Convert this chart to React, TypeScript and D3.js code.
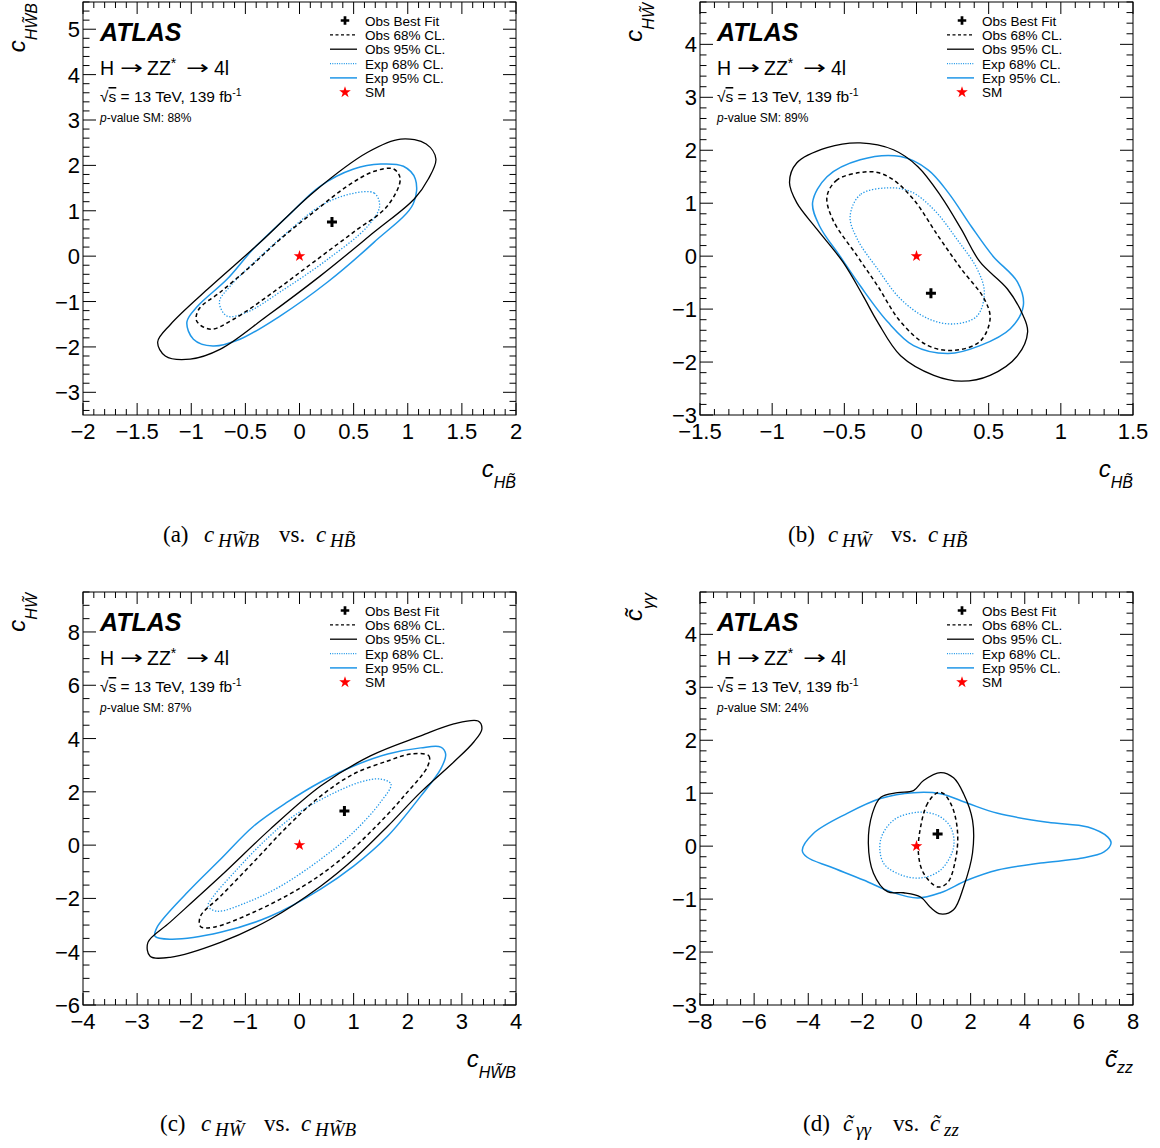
import React from "react";
import * as d3 from "d3";

type Pt = [number, number];

// ---------------- Panel (a): c_HWtB vs c_HBt ----------------
const aXTicks = [-2, -1.5, -1, -0.5, 0, 0.5, 1, 1.5, 2];
const aYTicks = [-3, -2, -1, 0, 1, 2, 3, 4, 5];
const aObs95: Pt[] = [
  [0.935, 2.58], [1.17, 2.47], [1.26, 2.14], [1.19, 1.7], [1.06, 1.26], [0.69, 0.53],
  [0.19, -0.44], [-0.3, -1.32], [-0.73, -2.05], [-1.01, -2.27], [-1.24, -2.2], [-1.31, -1.89],
  [-1.19, -1.5], [-0.85, -0.73], [-0.36, 0.31], [0.13, 1.41], [0.63, 2.29],
];
const aExp95: Pt[] = [
  [0.75, 2.03], [0.96, 1.98], [1.07, 1.7], [1.05, 1.15], [0.69, 0.31], [0.26, -0.57],
  [-0.18, -1.32], [-0.55, -1.83], [-0.8, -1.98], [-0.98, -1.83], [-1.04, -1.45], [-0.94, -1.1],
  [-0.67, -0.51], [-0.43, 0.15], [-0.11, 0.88], [0.19, 1.54], [0.5, 1.92],
];
const aObs68: Pt[] = [
  [0.69, 1.87], [0.87, 1.92], [0.93, 1.7], [0.81, 1.1], [0.5, 0.53], [0.13, -0.13],
  [-0.24, -0.79], [-0.61, -1.39], [-0.82, -1.61], [-0.95, -1.43], [-0.93, -1.17], [-0.73, -0.79],
  [-0.45, -0.22], [-0.18, 0.37], [0.13, 0.97], [0.44, 1.54],
];
const aExp68: Pt[] = [
  [0.47, 1.37], [0.69, 1.39], [0.74, 1.1], [0.63, 0.66], [0.26, -0.07], [-0.18, -0.79],
  [-0.48, -1.23], [-0.67, -1.32], [-0.74, -1.01], [-0.64, -0.66], [-0.39, -0.07], [-0.11, 0.53],
  [0.19, 1.1],
];
const aBest: Pt = [0.3, 0.75];

// ---------------- Panel (b): c_HWt vs c_HBt ----------------
const bXTicks = [-1.5, -1, -0.5, 0, 0.5, 1, 1.5];
const bYTicks = [-3, -2, -1, 0, 1, 2, 3, 4];
const bObs95: Pt[] = [
  [-0.39, 2.14], [-0.62, 2.05], [-0.83, 1.76], [-0.88, 1.39], [-0.83, 1.01], [-0.69, 0.51],
  [-0.51, -0.11], [-0.37, -0.75], [-0.27, -1.24], [-0.11, -1.88], [0.12, -2.25], [0.31, -2.36],
  [0.51, -2.25], [0.7, -1.88], [0.77, -1.43], [0.74, -1.13], [0.63, -0.62], [0.44, -0.11],
  [0.31, 0.51], [0.17, 1.13], [0.01, 1.69], [-0.16, 2.01],
];
const bExp95: Pt[] = [
  [-0.11, 1.88], [-0.39, 1.82], [-0.62, 1.5], [-0.72, 1.01], [-0.67, 0.56], [-0.53, 0],
  [-0.39, -0.56], [-0.2, -1.24], [-0.02, -1.69], [0.22, -1.84], [0.44, -1.69], [0.65, -1.37],
  [0.74, -0.94], [0.7, -0.49], [0.53, 0], [0.38, 0.56], [0.22, 1.2], [0.08, 1.63],
];
const bObs68: Pt[] = [
  [-0.39, 1.58], [-0.55, 1.44], [-0.62, 1.13], [-0.58, 0.69], [-0.41, 0], [-0.27, -0.56],
  [-0.11, -1.24], [0.08, -1.69], [0.26, -1.78], [0.44, -1.61], [0.51, -1.18], [0.47, -0.81],
  [0.31, -0.24], [0.15, 0.38], [-0.02, 1.07], [-0.16, 1.44], [-0.27, 1.58],
];
const bExp68: Pt[] = [
  [-0.2, 1.29], [-0.39, 1.16], [-0.46, 0.75], [-0.41, 0.32], [-0.27, -0.24], [-0.11, -0.81],
  [0.08, -1.18], [0.26, -1.28], [0.42, -1.13], [0.47, -0.68], [0.42, -0.24], [0.28, 0.32],
  [0.12, 0.88], [-0.04, 1.22],
];
const bBest: Pt = [0.1, -0.7];

// ---------------- Panel (c): c_HWt vs c_HWtB ----------------
const cXTicks = [-4, -3, -2, -1, 0, 1, 2, 3, 4];
const cYTicks = [-6, -4, -2, 0, 2, 4, 6, 8];
const cObs95: Pt[] = [
  [2.85, 4.55], [3.3, 4.66], [3.37, 4.36], [3.22, 3.87], [2.85, 3.12], [2.24, 1.99],
  [1.63, 0.71], [1.0, -0.53], [0.39, -1.54], [-0.54, -2.78], [-1.46, -3.65], [-2.39, -4.21],
  [-2.76, -4.17], [-2.8, -3.65], [-2.39, -2.89], [-1.46, -1.17], [-0.54, 0.6], [0.39, 2.22],
  [1.31, 3.35], [2.24, 4.1],
];
const cExp95: Pt[] = [
  [2.24, 3.65], [2.61, 3.68], [2.7, 3.42], [2.61, 2.86], [2.24, 1.84], [1.63, 0.34],
  [1.0, -0.79], [0.39, -1.65], [-0.54, -2.67], [-1.46, -3.27], [-2.39, -3.53], [-2.67, -3.42],
  [-2.63, -3.08], [-2.07, -1.77], [-1.46, -0.53], [-0.85, 0.71], [-0.22, 1.62], [0.39, 2.37],
  [1.0, 2.97], [1.63, 3.42],
];
const cObs68: Pt[] = [
  [2.06, 3.42], [2.39, 3.35], [2.37, 2.97], [1.93, 1.84], [1.31, 0.49], [0.7, -0.64],
  [0.07, -1.54], [-0.85, -2.52], [-1.59, -3.08], [-1.83, -3.05], [-1.83, -2.67], [-1.46, -1.92],
  [-0.85, -0.64], [-0.22, 0.71], [0.39, 1.84], [1.0, 2.67], [1.63, 3.16],
];
const cExp68: Pt[] = [
  [1.5, 2.48], [1.69, 2.29], [1.5, 1.62], [1.0, 0.49], [0.39, -0.53], [-0.35, -1.54],
  [-0.96, -2.14], [-1.52, -2.48], [-1.69, -2.29], [-1.59, -1.92], [-1.15, -0.9], [-0.67, 0.11],
  [-0.11, 1.09], [0.52, 1.84], [1.13, 2.37],
];
const cBest: Pt = [0.83, 1.28];

// ---------------- Panel (d): c~_gg vs c~_zz ----------------
const dXTicks = [-8, -6, -4, -2, 0, 2, 4, 6, 8];
const dYTicks = [-3, -2, -1, 0, 1, 2, 3, 4];
const dObs95: Pt[] = [
  [0.89, 1.39], [0.26, 1.24], [-0.11, 1.05], [-0.7, 1.01], [-1.33, 0.92], [-1.63, 0.62],
  [-1.78, 0.06], [-1.59, -0.51], [-1.07, -0.86], [-0.48, -0.88], [0.15, -0.96], [0.52, -1.16],
  [0.89, -1.28], [1.37, -1.2], [1.74, -0.77], [2.07, -0.13], [2.07, 0.49], [1.74, 0.99],
  [1.37, 1.29],
];
const dExp95: Pt[] = [
  [-4.22, -0.08], [-3.81, 0.24], [-2.56, 0.62], [-1.33, 0.9], [-0.11, 1.01], [0.89, 0.99],
  [1.89, 0.81], [3.0, 0.62], [4.85, 0.45], [6.33, 0.36], [7.07, 0.17], [7.19, 0.06],
  [6.93, -0.11], [6.07, -0.23], [4.59, -0.32], [3.0, -0.45], [1.89, -0.64], [0.89, -0.88],
  [0.04, -0.98], [-0.96, -0.86], [-1.96, -0.64], [-3.19, -0.39], [-4.04, -0.21],
];
const dObs68: Pt[] = [
  [0.78, 1.01], [0.41, 0.81], [0.15, 0.36], [0.07, -0.13], [0.26, -0.51], [0.78, -0.77],
  [1.15, -0.69], [1.44, -0.26], [1.52, 0.24], [1.33, 0.73], [1.0, 0.99],
];
const dExp68: Pt[] = [
  [0.04, 0.64], [-0.85, 0.49], [-1.33, 0.11], [-1.22, -0.32], [-0.59, -0.54], [0.15, -0.6],
  [0.89, -0.45], [1.37, -0.02], [1.26, 0.36], [0.78, 0.58],
];
const dBest: Pt = [0.78, 0.23];

const SM: Pt = [0, 0];
const legendLabels = ["Obs Best Fit", "Obs 68% CL.", "Obs 95% CL.", "Exp 68% CL.", "Exp 95% CL.", "SM"];
const pValues = ["88%", "89%", "87%", "24%"];

const BLUE = "#1f97e8";
const SANS = "'Liberation Sans', Arial, Helvetica, sans-serif";
const SERIF = "'Liberation Serif', 'DejaVu Serif', serif";
const PW = 433;
const PH = 413;

type AxisLabel = { main: string; sub: string; dy: number };

interface PanelCfg {
  id: string;
  left: number;
  top: number;
  xDomain: [number, number];
  yDomain: [number, number];
  xTicks: number[];
  yTicks: number[];
  xMinor: number;
  yMinor: number;
  obs95: Pt[];
  exp95: Pt[];
  obs68: Pt[];
  exp68: Pt[];
  best: Pt;
  pval: string;
  xLabel: AxisLabel;
  yLabel: AxisLabel;
}

const panels: PanelCfg[] = [
  {
    id: "a", left: 83, top: 2, xDomain: [-2, 2], yDomain: [-3.5, 5.6],
    xTicks: aXTicks, yTicks: aYTicks, xMinor: 0.1, yMinor: 0.2,
    obs95: aObs95, exp95: aExp95, obs68: aObs68, exp68: aExp68, best: aBest, pval: pValues[0],
    xLabel: { main: "c", sub: "HB\u0303", dy: 11 }, yLabel: { main: "c", sub: "HW\u0303B", dy: 12 },
  },
  {
    id: "b", left: 700, top: 2, xDomain: [-1.5, 1.5], yDomain: [-3, 4.8],
    xTicks: bXTicks, yTicks: bYTicks, xMinor: 0.1, yMinor: 0.2,
    obs95: bObs95, exp95: bExp95, obs68: bObs68, exp68: bExp68, best: bBest, pval: pValues[1],
    xLabel: { main: "c", sub: "HB\u0303", dy: 11 }, yLabel: { main: "c", sub: "HW\u0303", dy: 12 },
  },
  {
    id: "c", left: 83, top: 592, xDomain: [-4, 4], yDomain: [-6, 9.5],
    xTicks: cXTicks, yTicks: cYTicks, xMinor: 0.2, yMinor: 0.5,
    obs95: cObs95, exp95: cExp95, obs68: cObs68, exp68: cExp68, best: cBest, pval: pValues[2],
    xLabel: { main: "c", sub: "HW\u0303B", dy: 11 }, yLabel: { main: "c", sub: "HW\u0303", dy: 12 },
  },
  {
    id: "d", left: 700, top: 592, xDomain: [-8, 8], yDomain: [-3, 4.8],
    xTicks: dXTicks, yTicks: dYTicks, xMinor: 0.5, yMinor: 0.2,
    obs95: dObs95, exp95: dExp95, obs68: dObs68, exp68: dExp68, best: dBest, pval: pValues[3],
    xLabel: { main: "c\u0303", sub: "zz", dy: 6 }, yLabel: { main: "c\u0303", sub: "\u03b3\u03b3", dy: 12 },
  },
];

type CapPiece = { t: string; x: number; it?: boolean; sub?: boolean };
const captions: { y: number; pieces: CapPiece[] }[] = [
  {
    y: 542,
    pieces: [
      { t: "(a)", x: 163 }, { t: "c", x: 204, it: true }, { t: "HW\u0303B", x: 218, it: true, sub: true },
      { t: "vs.", x: 279 }, { t: "c", x: 316, it: true }, { t: "HB\u0303", x: 330, it: true, sub: true },
    ],
  },
  {
    y: 542,
    pieces: [
      { t: "(b)", x: 788 }, { t: "c", x: 828, it: true }, { t: "HW\u0303", x: 842, it: true, sub: true },
      { t: "vs.", x: 891 }, { t: "c", x: 928, it: true }, { t: "HB\u0303", x: 942, it: true, sub: true },
    ],
  },
  {
    y: 1131,
    pieces: [
      { t: "(c)", x: 160 }, { t: "c", x: 201, it: true }, { t: "HW\u0303", x: 215, it: true, sub: true },
      { t: "vs.", x: 264 }, { t: "c", x: 301, it: true }, { t: "HW\u0303B", x: 315, it: true, sub: true },
    ],
  },
  {
    y: 1131,
    pieces: [
      { t: "(d)", x: 803 }, { t: "c\u0303", x: 843, it: true }, { t: "\u03b3\u03b3", x: 856, it: true, sub: true },
      { t: "vs.", x: 893 }, { t: "c\u0303", x: 930, it: true }, { t: "zz", x: 944, it: true, sub: true },
    ],
  },
];

const fmt = (v: number) => (v < 0 ? "\u2212" : "") + String(Math.abs(v));

function minorTicks(domain: [number, number], step: number, majors: number[]) {
  const i0 = Math.ceil(domain[0] / step - 1e-9);
  const i1 = Math.floor(domain[1] / step + 1e-9);
  return d3
    .range(i0, i1 + 1)
    .map((i) => i * step)
    .filter((v) => !majors.some((m) => Math.abs(m - v) < 1e-6));
}

const plusPath = "M-5,0L5,0M0,-5L0,5";

function Panel({ p }: { p: PanelCfg }) {
  const x = d3.scaleLinear().domain(p.xDomain).range([p.left, p.left + PW]);
  const y = d3.scaleLinear().domain(p.yDomain).range([p.top + PH, p.top]);
  const line = d3
    .line<Pt>()
    .x((d) => x(d[0]))
    .y((d) => y(d[1]))
    .curve(d3.curveCatmullRomClosed.alpha(0.5));
  const bottom = p.top + PH;
  const right = p.left + PW;
  const xm = minorTicks(p.xDomain, p.xMinor, p.xTicks);
  const ym = minorTicks(p.yDomain, p.yMinor, p.yTicks);
  const star = d3.symbol(d3.symbolStar, 42)() || "";
  const tx = p.left + 17;
  const lx = p.left + 262;
  const legendY = (i: number) => p.top + 18.5 + i * 14.35;
  const hy = p.top + 73;
  return (
    <g>
      <defs>
        <clipPath id={"clip-" + p.id}>
          <rect x={p.left} y={p.top} width={PW} height={PH} />
        </clipPath>
      </defs>
      <g clipPath={`url(#clip-${p.id})`} fill="none">
        <path d={line(p.exp95) || ""} stroke={BLUE} strokeWidth={1.5} />
        <path d={line(p.exp68) || ""} stroke={BLUE} strokeWidth={1.3} strokeDasharray="1.3,1.7" />
        <path d={line(p.obs95) || ""} stroke="#000" strokeWidth={1.3} />
        <path d={line(p.obs68) || ""} stroke="#000" strokeWidth={1.5} strokeDasharray="4,3" />
        <path d={plusPath} transform={`translate(${x(p.best[0])},${y(p.best[1])})`} stroke="#000" strokeWidth={3} />
        <path d={star} transform={`translate(${x(SM[0])},${y(SM[1])})`} fill="red" />
      </g>
      <rect x={p.left} y={p.top} width={PW} height={PH} fill="none" stroke="#000" strokeWidth={1} />
      <g stroke="#000" strokeWidth={1}>
        {p.xTicks.map((v) => (
          <g key={"xt" + v}>
            <line x1={x(v)} x2={x(v)} y1={bottom} y2={bottom - 12} />
            <line x1={x(v)} x2={x(v)} y1={p.top} y2={p.top + 12} />
          </g>
        ))}
        {xm.map((v) => (
          <g key={"xm" + v}>
            <line x1={x(v)} x2={x(v)} y1={bottom} y2={bottom - 6} />
            <line x1={x(v)} x2={x(v)} y1={p.top} y2={p.top + 6} />
          </g>
        ))}
        {p.yTicks.map((v) => (
          <g key={"yt" + v}>
            <line x1={p.left} x2={p.left + 13} y1={y(v)} y2={y(v)} />
            <line x1={right} x2={right - 13} y1={y(v)} y2={y(v)} />
          </g>
        ))}
        {ym.map((v) => (
          <g key={"ym" + v}>
            <line x1={p.left} x2={p.left + 6.5} y1={y(v)} y2={y(v)} />
            <line x1={right} x2={right - 6.5} y1={y(v)} y2={y(v)} />
          </g>
        ))}
      </g>
      <g fontFamily={SANS} fontSize={22} fill="#000">
        {p.xTicks.map((v) => (
          <text key={"xl" + v} x={x(v)} y={bottom + 24} textAnchor="middle">
            {fmt(v)}
          </text>
        ))}
        {p.yTicks.map((v) => (
          <text key={"yl" + v} x={p.left - 3} y={y(v) + 8} textAnchor="end">
            {fmt(v)}
          </text>
        ))}
      </g>
      <text x={right} y={bottom + 62} textAnchor="end" fontFamily={SANS} fontStyle="italic" fontSize={24}>
        {p.xLabel.main}
        <tspan fontSize={16} dy={p.xLabel.dy}>{p.xLabel.sub}</tspan>
      </text>
      <text
        transform={`translate(${p.left - 58},${p.top + 1}) rotate(-90)`}
        textAnchor="end"
        fontFamily={SANS}
        fontStyle="italic"
        fontSize={24}
      >
        {p.yLabel.main}
        <tspan fontSize={16} dy={p.yLabel.dy}>{p.yLabel.sub}</tspan>
      </text>
      <text x={tx} y={p.top + 39} fontFamily={SANS} fontWeight="bold" fontStyle="italic" fontSize={25}>
        ATLAS
      </text>
      <g fontFamily={SANS} fontSize={19.5}>
        <text x={tx} y={hy}>H</text>
        <text x={tx + 20} y={hy - 1} fontFamily="'DejaVu Sans', sans-serif" fontSize={19} textLength={23} lengthAdjust="spacingAndGlyphs">{"\u2192"}</text>
        <text x={tx + 47} y={hy}>
          ZZ<tspan fontSize={14} dy={-7}>*</tspan>
        </text>
        <text x={tx + 86} y={hy - 1} fontFamily="'DejaVu Sans', sans-serif" fontSize={19} textLength={23} lengthAdjust="spacingAndGlyphs">{"\u2192"}</text>
        <text x={tx + 114} y={hy}>4l</text>
      </g>
      <text x={tx} y={p.top + 100} fontFamily={SANS} fontSize={15.5}>
        {"\u221a"}<tspan textDecoration="overline">s</tspan> = 13 TeV, 139 fb<tspan fontSize={10.5} dy={-6}>-1</tspan>
      </text>
      <text x={tx} y={p.top + 120} fontFamily={SANS} fontSize={12}>
        <tspan fontStyle="italic">p</tspan>-value SM: {p.pval}
      </text>
      <g fontFamily={SANS} fontSize={13.5}>
        {legendLabels.map((t, i) => (
          <text key={t} x={lx + 20} y={legendY(i) + 5}>{t}</text>
        ))}
        <path d={plusPath} transform={`translate(${lx},${legendY(0)}) scale(0.85)`} stroke="#000" strokeWidth={3.2} fill="none" />
        <line x1={lx - 15} x2={lx + 12} y1={legendY(1)} y2={legendY(1)} stroke="#000" strokeWidth={1.3} strokeDasharray="3,2.5" />
        <line x1={lx - 15} x2={lx + 12} y1={legendY(2)} y2={legendY(2)} stroke="#000" strokeWidth={1.3} />
        <line x1={lx - 15} x2={lx + 12} y1={legendY(3)} y2={legendY(3)} stroke={BLUE} strokeWidth={1.2} strokeDasharray="1,1.3" />
        <line x1={lx - 15} x2={lx + 12} y1={legendY(4)} y2={legendY(4)} stroke={BLUE} strokeWidth={1.5} />
        <path d={star} transform={`translate(${lx},${legendY(5)})`} fill="red" />
      </g>
    </g>
  );
}

function Captions() {
  return (
    <g fontFamily={SERIF}>
      {captions.map((c, i) => (
        <g key={i}>
          {c.pieces.map((pc, j) => (
            <text
              key={j}
              x={pc.x}
              y={pc.sub ? c.y + 5 : c.y}
              fontSize={pc.sub ? 19 : 23}
              fontStyle={pc.it ? "italic" : "normal"}
            >
              {pc.t}
            </text>
          ))}
        </g>
      ))}
    </g>
  );
}

export default function App() {
  return (
    <svg
      width={1160}
      height={1148}
      viewBox="0 0 1160 1148"
      style={{ position: "absolute", left: 0, top: 0, background: "#fff" }}
    >
      <rect x={0} y={0} width={1160} height={1148} fill="#fff" />
      {panels.map((p) => (
        <Panel key={p.id} p={p} />
      ))}
      <Captions />
    </svg>
  );
}
